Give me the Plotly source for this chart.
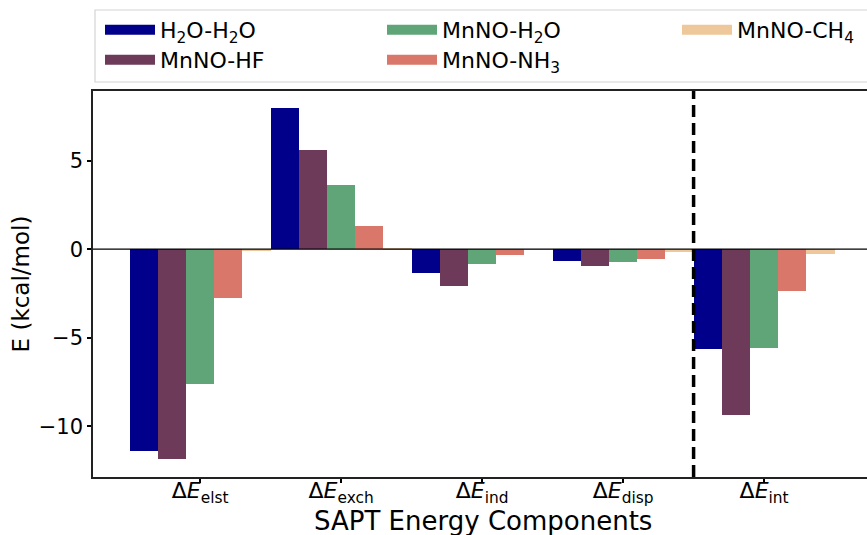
import plotly.graph_objects as go

components = ["Δ<i>E</i><sub>elst</sub>", "Δ<i>E</i><sub>exch</sub>", "Δ<i>E</i><sub>ind</sub>",
              "Δ<i>E</i><sub>disp</sub>", "Δ<i>E</i><sub>int</sub>"]
positions = [0, 1, 2, 3, 4]

series_names = ["H<sub>2</sub>O-H<sub>2</sub>O", "MnNO-HF", "MnNO-H<sub>2</sub>O",
                "MnNO-NH<sub>3</sub>", "MnNO-CH<sub>4</sub>"]
h2o_h2o = [-11.41, 7.97, -1.36, -0.68, -5.61]
mnno_hf = [-11.88, 5.59, -2.09, -0.96, -9.34]
mnno_h2o = [-7.63, 3.62, -0.85, -0.72, -5.58]
mnno_nh3 = [-2.77, 1.30, -0.34, -0.56, -2.37]
mnno_ch4 = [-0.05, 0.02, -0.03, -0.15, -0.27]
series_values = [h2o_h2o, mnno_hf, mnno_h2o, mnno_nh3, mnno_ch4]
colors = ["#00008b", "#6e3a5a", "#60a577", "#d9786a", "#eec79a"]

FONT = "DejaVu Sans"

fig = go.Figure()
for name, vals, col in zip(series_names, series_values, colors):
    fig.add_trace(go.Bar(x=positions, y=vals, name=name, marker_color=col,
                         marker_line_width=0, showlegend=False))

# legend entries laid out like matplotlib's column-major ncol=3 legend
legend_ids = ["legend", "legend2", "legend3", "legend4", "legend5"]
for name, col, lid in zip(series_names, colors, legend_ids):
    fig.add_trace(go.Scatter(x=[None], y=[None], mode="lines", name=name,
                             line=dict(color=col, width=16), legend=lid,
                             showlegend=True))

W, H = 867, 535
S_L, S_T, S_B, S_R = 93, 91, 477, 867  # plot area in pixels
L, T, B = S_L, S_T, H - S_B
pw = S_R - S_L
ph = S_B - S_T

def px_x(s):
    return (s - L) / pw

def px_y(s):
    return (S_B - s) / ph

col_px = [100, 382, 677]
row_px = [30, 60]
leg_pos = {"legend": (col_px[0], row_px[0]), "legend2": (col_px[0], row_px[1]),
           "legend3": (col_px[1], row_px[0]), "legend4": (col_px[1], row_px[1]),
           "legend5": (col_px[2], row_px[0])}
legends = {}
for lid, (lx, ly) in leg_pos.items():
    legends[lid] = dict(x=px_x(lx), y=px_y(ly), xanchor="left", yanchor="middle",
                        bgcolor="rgba(0,0,0,0)", borderwidth=0, itemwidth=50,
                        font=dict(family=FONT, size=22, color="black"))

fig.update_layout(**legends)

fig.update_layout(
    width=W, height=H,
    margin=dict(l=L, r=0, t=T, b=B, pad=0, autoexpand=False),
    paper_bgcolor="white", plot_bgcolor="white",
    barmode="group", bargap=0, bargroupgap=0,
    font=dict(family=FONT, size=20, color="black"),
    xaxis=dict(range=[-0.76, 4.73], tickvals=positions, ticktext=components,
               ticks="outside", ticklen=4, tickwidth=1.5, tickcolor="black",
               showline=True, linecolor="#222", linewidth=1.6, mirror=True,
               showgrid=False, zeroline=False, ticklabelstandoff=-11,
               tickfont=dict(family=FONT, size=22)),
    yaxis=dict(range=[-12.87, 8.94], tickvals=[-10, -5, 0, 5],
               ticks="outside", ticklen=4, tickwidth=1.5, tickcolor="black",
               showline=True, linecolor="#222", linewidth=1.6, mirror=False,
               showgrid=False, zeroline=False,
               tickfont=dict(family=FONT, size=21),
               title=dict(text="E (kcal/mol)", standoff=3,
                          font=dict(family=FONT, size=23))),
    annotations=[
        dict(text="SAPT Energy Components", xref="paper", yref="paper",
             x=px_x(483), y=px_y(521), xanchor="center", yanchor="middle",
             showarrow=False, font=dict(family=FONT, size=26, color="black")),
    ],
    shapes=[
        dict(type="line", xref="paper", yref="y", x0=0, x1=1, y0=0, y1=0,
             line=dict(color="black", width=1.2), layer="above"),
        dict(type="line", xref="x", yref="paper", x0=3.5, x1=3.5, y0=0, y1=1,
             line=dict(color="black", width=3.5, dash="12px,6px"), layer="above"),
        dict(type="rect", xref="paper", yref="paper",
             x0=px_x(95), x1=1.02, y0=px_y(82), y1=px_y(10),
             line=dict(color="#d4d4d4", width=1.2), fillcolor="white", layer="below"),
    ],
)

fig.write_html(
    "out.html",
    config={"displayModeBar": False},
    post_script="document.body.style.margin='0';document.body.style.overflow='hidden';",
)
